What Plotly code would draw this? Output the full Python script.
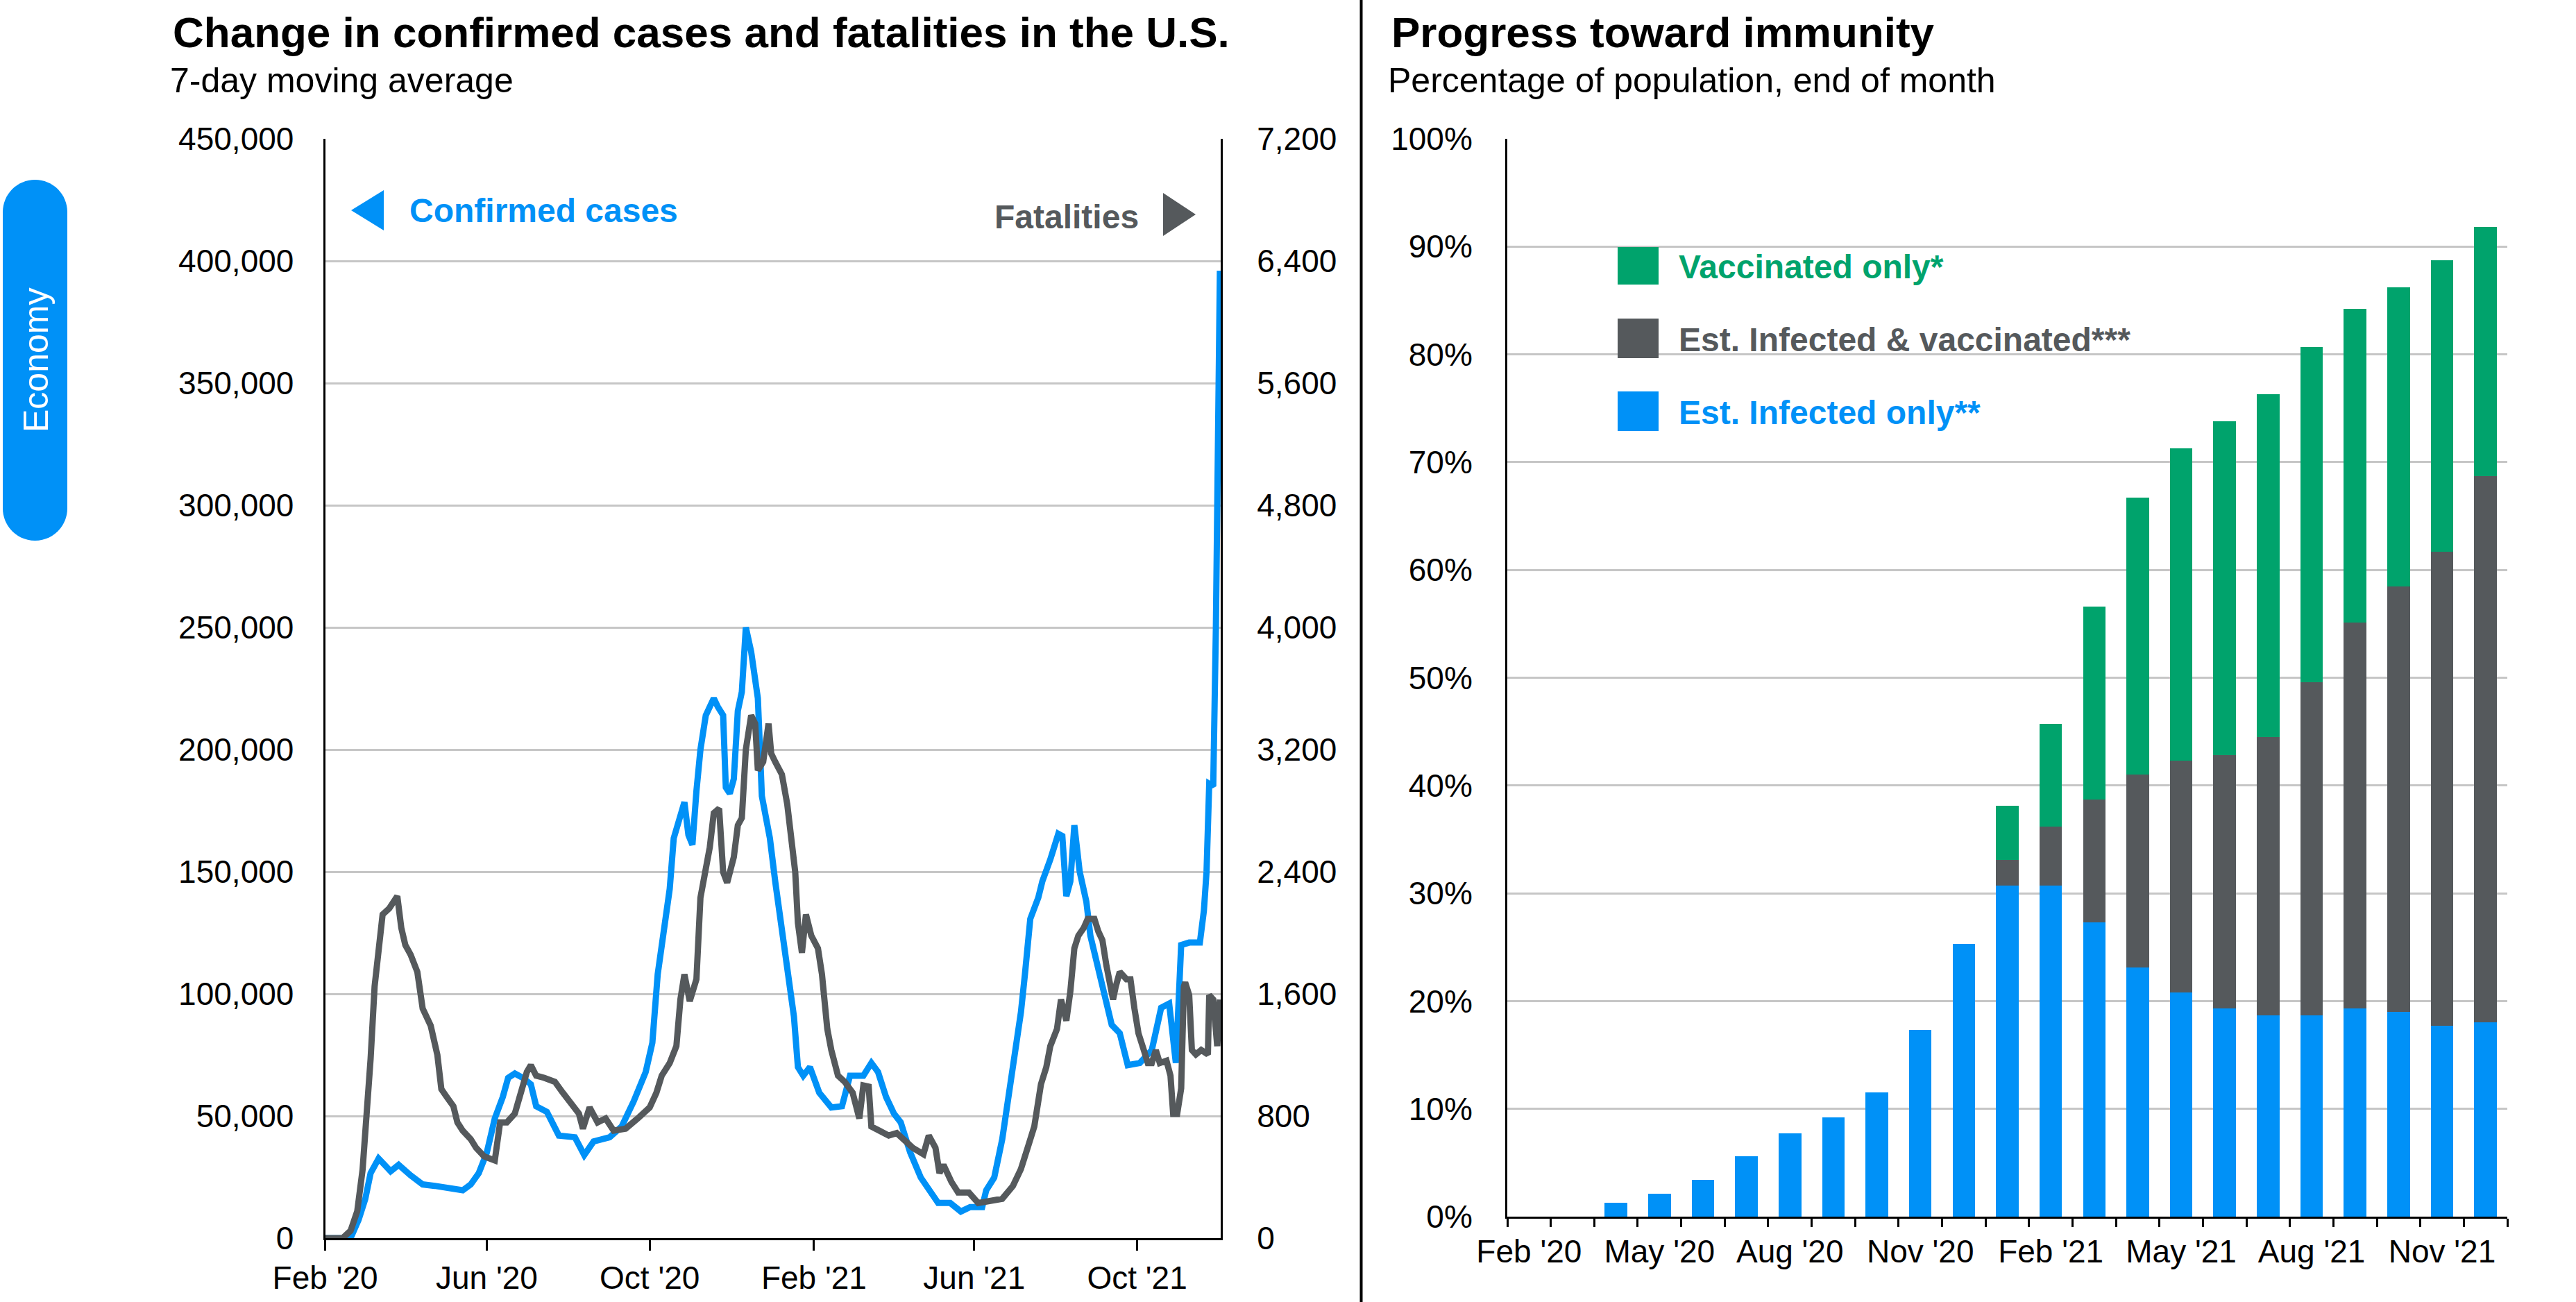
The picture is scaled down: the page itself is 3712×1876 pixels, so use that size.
import pandas as pd
import plotly.graph_objects as go

W, H = 3712, 1876

BLUE = "#0091F7"
GRAY = "#55595C"
GREEN = "#00A36C"
GRID = "#C6C6C6"
FONT = "Liberation Sans"

# Left panel, 7-day moving averages (x = days after 1 Feb 2020)
case_days = [0, 19, 25, 30, 34, 40, 49, 55, 64, 73, 82, 91, 103, 109, 115, 121, 127, 133, 137,
             142, 148, 154, 158, 166, 172, 175, 187, 194, 201, 213, 222, 231, 240, 245, 249,
             254, 258, 261, 266, 269, 272, 275, 278, 281, 285, 291, 294, 298, 300, 303, 306,
             309, 312, 315, 319, 324, 327, 333, 337, 342, 346, 351, 354, 358, 363, 370, 379,
             387, 393, 403, 409, 414, 420, 426, 431, 438, 446, 453, 459, 468, 476, 483, 492,
             495, 501, 507, 513, 518, 521, 524, 528, 534, 537, 543, 549, 552, 555, 558, 561,
             565, 570, 573, 577, 583, 589, 595, 601, 610, 619, 626, 632, 637, 641, 647, 655,
             658, 660, 662, 665, 667, 668, 669, 670]
case_values = [0, 0, 7500, 16000, 26600, 32600, 27400, 30000, 25700, 22000, 21400, 20500,
               19600, 22000, 26600, 35000, 49000, 57800, 65600, 67400, 65600, 63000, 54000,
               51700, 45700, 42000, 41300, 34000, 39600, 41300, 45700, 56000, 68000, 80000,
               108000, 125500, 143000, 163700, 174000, 178500, 165000, 161000, 183000, 200000,
               214000, 221000, 217500, 214000, 184500, 182000, 188000, 215800, 223600, 250000,
               240000, 221000, 181000, 163700, 146000, 125500, 108000, 90800, 70000, 66500,
               70000, 59500, 53500, 54000, 66500, 66500, 71700, 68000, 57800, 50900, 47400,
               35200, 24800, 19600, 14400, 14400, 10900, 12700, 12700, 19600, 24800, 40500,
               61300, 78600, 92500, 108000, 130700, 139400, 146000, 155000, 165500, 164600,
               140000, 146000, 169000, 150000, 137700, 123800, 115000, 101000, 87300, 83900,
               70800, 71700, 77000, 94300, 96000, 71700, 120000, 121000, 121000, 134000,
               150000, 186000, 185000, 250000, 300000, 350000, 396000]

death_days = [0, 13, 19, 24, 28, 31, 34, 37, 40, 43, 48, 51, 54, 57, 60, 64, 69, 73, 79, 84,
              87, 91, 96, 99, 103, 109, 113, 119, 127, 131, 136, 142, 146, 151, 154, 158, 164,
              172, 178, 185, 190, 193, 198, 204, 210, 216, 225, 234, 243, 248, 252, 258, 263,
              266, 269, 273, 278, 281, 285, 288, 291, 295, 298, 301, 306, 309, 312, 315, 319,
              322, 324, 328, 332, 334, 337, 342, 346, 349, 352, 354, 357, 360, 364, 369, 372,
              376, 379, 384, 389, 395, 400, 403, 407, 409, 416, 422, 428, 434, 440, 448, 452,
              457, 460, 463, 469, 474, 482, 489, 498, 507, 515, 521, 527, 531, 536, 540, 543,
              548, 551, 555, 558, 561, 564, 568, 571, 576, 579, 582, 585, 588, 590, 592, 595,
              600, 603, 606, 609, 613, 616, 619, 622, 625, 630, 633, 635, 638, 641, 643, 644,
              647, 649, 652, 656, 661, 662, 665, 668, 670]
death_values = [0, 0, 48, 176, 448, 752, 1174, 1648, 1898, 2120, 2160, 2203, 2240, 2032, 1920,
                1856, 1744, 1504, 1392, 1200, 976, 925, 864, 758, 704, 648, 592, 536, 509, 758,
                758, 816, 952, 1088, 1133, 1064, 1050, 1024, 952, 880, 816, 717, 856, 758, 784,
                704, 717, 784, 856, 952, 1064, 1147, 1258, 1563, 1728, 1552, 1696, 2230, 2397,
                2560, 2784, 2814, 2397, 2328, 2496, 2704, 2752, 3200, 3424, 3370, 3064, 3120,
                3370, 3174, 3120, 3037, 2842, 2619, 2397, 2064, 1869, 2120, 1981, 1898, 1728,
                1370, 1232, 1064, 1024, 952, 784, 1000, 992, 731, 704, 672, 688, 634, 592, 550,
                672, 592, 426, 480, 368, 299, 299, 230, 245, 258, 342, 453, 619, 731, 1008,
                1120, 1258, 1370, 1563, 1424, 1616, 1898, 1981, 2032, 2091, 2091, 2008, 1952,
                1786, 1675, 1563, 1648, 1744, 1696, 1696, 1504, 1342, 1232, 1147, 1147, 1232,
                1147, 1162, 1064, 814, 814, 981, 1648, 1675, 1592, 1232, 1203, 1232, 1203,
                1592, 1563, 1258, 1563]

date_ticks = ["2020-02-01", "2020-06-01", "2020-10-01", "2021-02-01", "2021-06-01", "2021-10-01"]
date_labels = ["Feb '20", "Jun '20", "Oct '20", "Feb '21", "Jun '21", "Oct '21"]

# Right panel, % of population at month end
months = ["Feb '20", "Mar '20", "Apr '20", "May '20", "Jun '20", "Jul '20", "Aug '20",
          "Sep '20", "Oct '20", "Nov '20", "Dec '20", "Jan '21", "Feb '21", "Mar '21",
          "Apr '21", "May '21", "Jun '21", "Jul '21", "Aug '21", "Sep '21", "Oct '21",
          "Nov '21", "Dec '21"]
infected_only = [0, 0, 1.3, 2.1, 3.4, 5.6, 7.7, 9.2, 11.5, 17.3, 25.3, 30.7, 30.7, 27.3,
                 23.1, 20.8, 19.3, 18.7, 18.7, 19.3, 19.0, 17.7, 18.0]
infected_vacc = [0, 0, 0, 0, 0, 0, 0, 0, 0, 0, 0, 2.4, 5.5, 11.4, 17.9, 21.5, 23.5, 25.8,
                 30.9, 35.8, 39.5, 44.0, 50.7]
vacc_only = [0, 0, 0, 0, 0, 0, 0, 0, 0, 0, 0, 5.0, 9.5, 17.9, 25.7, 29.0, 31.0, 31.8, 31.1,
             29.1, 27.7, 27.0, 23.1]
month_labels = ["Feb '20", "May '20", "Aug '20", "Nov '20", "Feb '21", "May '21", "Aug '21",
                "Nov '21"]


def fx(px):
    return px / W


def fy(py):
    return 1 - py / H


def on_baseline(py, size):
    # paper y for a bottom-anchored annotation whose baseline sits at py
    return fy(py + 0.212 * size + 1)


start = pd.Timestamp("2020-02-01")
case_dates = start + pd.to_timedelta(case_days, unit="D")
death_dates = start + pd.to_timedelta(death_days, unit="D")

fig = go.Figure()

fig.add_trace(go.Scatter(x=case_dates, y=case_values, mode="lines", name="Confirmed cases",
                         line=dict(color=BLUE, width=9), xaxis="x", yaxis="y"))
fig.add_trace(go.Scatter(x=death_dates, y=death_values, mode="lines", name="Fatalities",
                         line=dict(color=GRAY, width=9), xaxis="x", yaxis="y2"))

fig.add_trace(go.Bar(x=months, y=infected_only, name="Est. Infected only**",
                     marker=dict(color=BLUE, line=dict(width=0)), xaxis="x2", yaxis="y3"))
fig.add_trace(go.Bar(x=months, y=infected_vacc, name="Est. Infected & vaccinated***",
                     marker=dict(color=GRAY, line=dict(width=0)), xaxis="x2", yaxis="y3"))
fig.add_trace(go.Bar(x=months, y=vacc_only, name="Vaccinated only*",
                     marker=dict(color=GREEN, line=dict(width=0)), xaxis="x2", yaxis="y3"))

axis_common = dict(showline=True, linecolor="black", linewidth=3, zeroline=False,
                   tickfont=dict(family=FONT, size=46, color="black"))

fig.update_layout(
    width=W, height=H,
    margin=dict(l=0, r=0, t=0, b=0, autoexpand=False),
    paper_bgcolor="white", plot_bgcolor="white",
    showlegend=False,
    barmode="stack", bargap=0.48,
    font=dict(family=FONT, size=46, color="black"),
    xaxis=dict(axis_common, domain=[fx(468.6), fx(1759)], anchor="y", type="date",
               range=["2020-02-01", "2021-12-02 14:00"], tickvals=date_ticks,
               ticktext=date_labels, ticks="outside", ticklen=15, tickwidth=3,
               tickcolor="black", showgrid=False, tickangle=0, ticklabelstandoff=0),
    yaxis=dict(axis_common, domain=[fy(1784), fy(200)], anchor="x", range=[0, 450000],
               dtick=50000, tickformat=",", showgrid=True, gridcolor=GRID, gridwidth=3,
               ticks="", ticklabelstandoff=33),
    yaxis2=dict(axis_common, overlaying="y", side="right", anchor="x", range=[0, 7200],
                dtick=800, tickformat=",", showgrid=False, ticks="", ticklabelstandoff=40),
    xaxis2=dict(axis_common, domain=[fx(2172), fx(3613)], anchor="y3", type="category",
                categoryorder="array", categoryarray=months, tickvals=months,
                ticktext=[m if m in month_labels else "" for m in months],
                tickson="boundaries", ticks="outside", ticklen=12, tickwidth=3,
                tickcolor="black", showgrid=False, tickangle=0, ticklabelstandoff=8),
    yaxis3=dict(axis_common, domain=[fy(1753), fy(200)], anchor="x2", range=[0, 100],
                dtick=10, ticksuffix="%", showgrid=True, gridcolor=GRID, gridwidth=3,
                ticks="", ticklabelstandoff=38),
)

annotations = [
    dict(text="<b>Change in confirmed cases and fatalities in the U.S.</b>", x=fx(247),
         y=on_baseline(69, 62), xanchor="left", yanchor="bottom",
         font=dict(family=FONT, size=62, color="black")),
    dict(text="7-day moving average", x=fx(243), y=on_baseline(134, 50), xanchor="left",
         yanchor="bottom", font=dict(family=FONT, size=50, color="black")),
    dict(text="<b>Progress toward immunity</b>", x=fx(2003), y=on_baseline(69, 62),
         xanchor="left", yanchor="bottom", font=dict(family=FONT, size=62, color="black")),
    dict(text="Percentage of population, end of month", x=fx(1998), y=on_baseline(134, 50),
         xanchor="left", yanchor="bottom", font=dict(family=FONT, size=50, color="black")),
    dict(text="<b>Confirmed cases</b>", x=fx(588), y=on_baseline(321, 48), xanchor="left",
         yanchor="bottom", font=dict(family=FONT, size=48, color=BLUE)),
    dict(text="<b>Fatalities</b>", x=fx(1643), y=on_baseline(330, 48), xanchor="right",
         yanchor="bottom", font=dict(family=FONT, size=48, color=GRAY)),
    dict(text="Economy", x=fx(52), y=fy(519), xanchor="center", yanchor="middle",
         textangle=-90, font=dict(family=FONT, size=50, color="white")),
]

legend_rows = [("Vaccinated only*", GREEN, 356, 410),
               ("Est. Infected & vaccinated***", GRAY, 459, 516),
               ("Est. Infected only**", BLUE, 564, 621)]

shapes = [
    # divider between the two panels
    dict(type="line", x0=fx(1961.5), x1=fx(1961.5), y0=0, y1=1,
         line=dict(color="black", width=4)),
    # arrows next to the series labels
    dict(type="path", path=f"M{fx(506)},{fy(303)} L{fx(553)},{fy(274)} L{fx(553)},{fy(332)} Z",
         fillcolor=BLUE, line=dict(width=0)),
    dict(type="path", path=f"M{fx(1676)},{fy(278)} L{fx(1723)},{fy(309)} L{fx(1676)},{fy(340)} Z",
         fillcolor=GRAY, line=dict(width=0)),
]

for label, color, top, bottom in legend_rows:
    shapes.append(dict(type="rect", x0=fx(2331), x1=fx(2390), y0=fy(bottom), y1=fy(top),
                       fillcolor=color, line=dict(width=0)))
    annotations.append(dict(text=f"<b>{label}</b>", x=fx(2417), y=fy((top + bottom) / 2 + 2),
                            xanchor="left", yanchor="middle",
                            font=dict(family=FONT, size=48, color=color)))

# rounded "Economy" tab on the left edge
x0, x1, y0, y1 = 4, 97, 259, 779
r = (x1 - x0) / 2
cx = (x0 + x1) / 2
k = 0.5523 * r
pts = [
    ("M", [(x0, y0 + r)]),
    ("C", [(x0, y0 + r - k), (cx - k, y0), (cx, y0)]),
    ("C", [(cx + k, y0), (x1, y0 + r - k), (x1, y0 + r)]),
    ("L", [(x1, y1 - r)]),
    ("C", [(x1, y1 - r + k), (cx + k, y1), (cx, y1)]),
    ("C", [(cx - k, y1), (x0, y1 - r + k), (x0, y1 - r)]),
]
tab_path = " ".join(cmd + " ".join(f"{fx(a)},{fy(b)}" for a, b in p) for cmd, p in pts) + " Z"
shapes.append(dict(type="path", path=tab_path, fillcolor=BLUE, line=dict(width=0),
                   layer="below"))

for a in annotations:
    a.update(xref="paper", yref="paper", showarrow=False)
for s in shapes:
    s.update(xref="paper", yref="paper")

fig.update_layout(annotations=annotations, shapes=shapes)

fig.write_html("out.html", config={"displayModeBar": False},
               post_script="document.body.style.margin='0';")
